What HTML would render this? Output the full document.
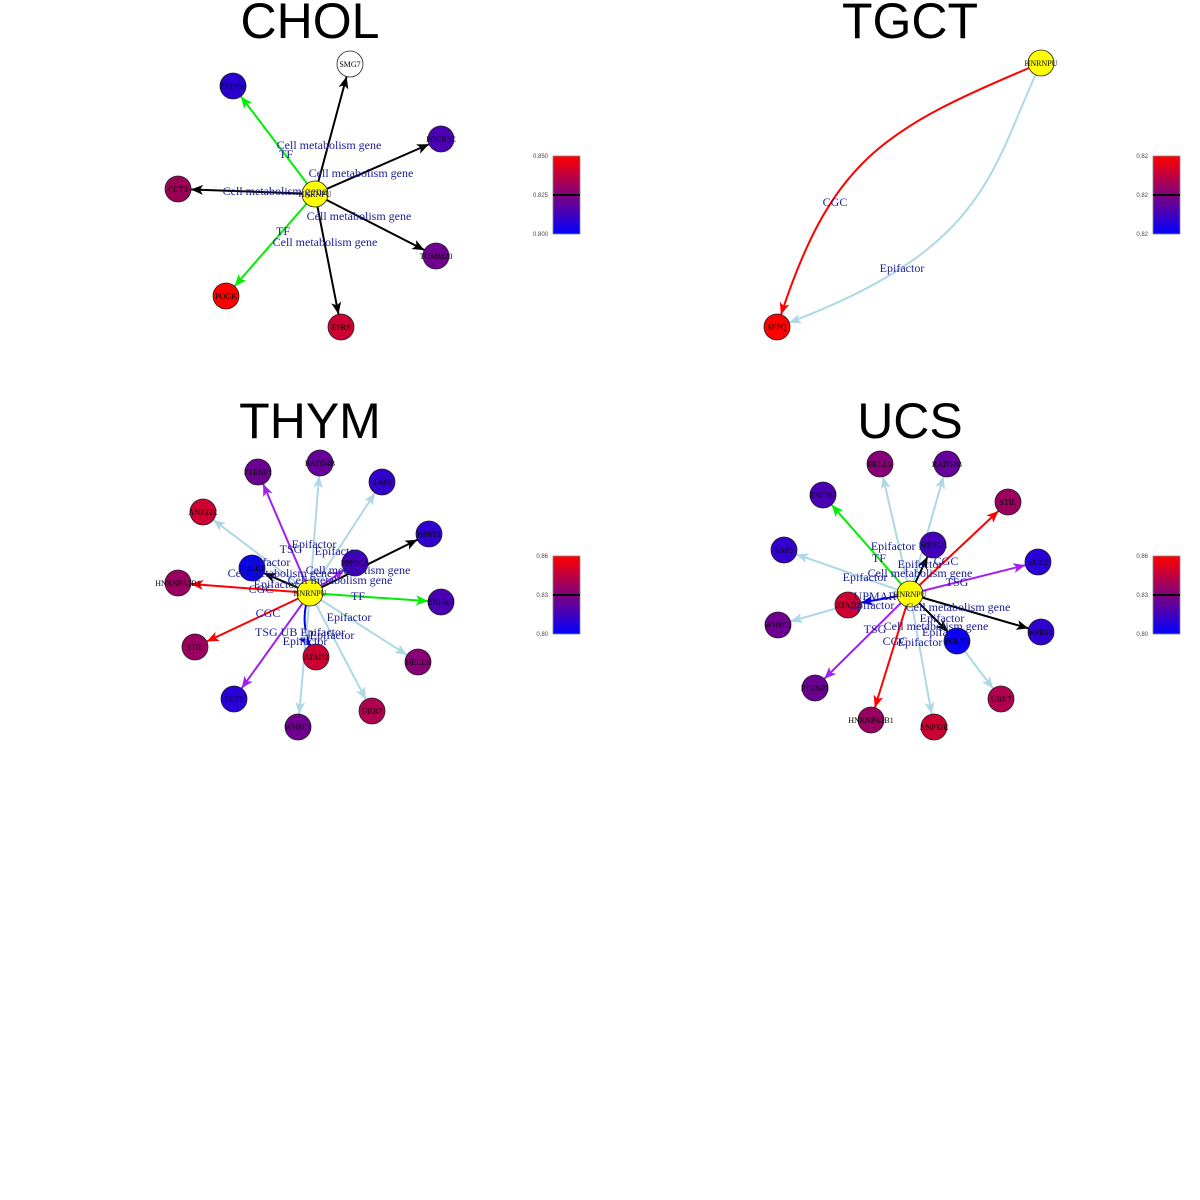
<!DOCTYPE html>
<html><head><meta charset="utf-8"><style>
html,body{margin:0;padding:0;background:#fff;}
svg{display:block;}
.t{font-family:"Liberation Sans",sans-serif;font-size:50px;text-anchor:middle;fill:#000;}
.n{font-family:"Liberation Serif",serif;font-size:8px;text-anchor:middle;fill:#000;}
.l{font-family:"Liberation Serif",serif;font-size:12px;text-anchor:middle;fill:#1a1a99;}
.c{font-family:"Liberation Sans",sans-serif;font-size:6px;text-anchor:end;fill:#444;}
circle{stroke:#222;stroke-width:0.8;}
line,path.e{stroke-width:2;fill:none;}
</style></head><body>
<svg width="1200" height="1200" viewBox="0 0 1200 1200" xmlns="http://www.w3.org/2000/svg">
<defs>
<linearGradient id="g" x1="0" y1="0" x2="0" y2="1">
<stop offset="0" stop-color="#ff0000"/><stop offset="0.5" stop-color="#80007f"/><stop offset="1" stop-color="#0000ff"/>
</linearGradient>
<marker id="mk" markerUnits="userSpaceOnUse" markerWidth="40" markerHeight="20" refX="25" refY="5" orient="auto" viewBox="0 0 40 10"><path d="M0,0 L12,5 L0,10 L3,5 z" fill="#000"/></marker>
<marker id="mg" markerUnits="userSpaceOnUse" markerWidth="40" markerHeight="20" refX="25" refY="5" orient="auto" viewBox="0 0 40 10"><path d="M0,0 L12,5 L0,10 L3,5 z" fill="#00ee00"/></marker>
<marker id="mr" markerUnits="userSpaceOnUse" markerWidth="40" markerHeight="20" refX="25" refY="5" orient="auto" viewBox="0 0 40 10"><path d="M0,0 L12,5 L0,10 L3,5 z" fill="#ff0000"/></marker>
<marker id="mb" markerUnits="userSpaceOnUse" markerWidth="40" markerHeight="20" refX="25" refY="5" orient="auto" viewBox="0 0 40 10"><path d="M0,0 L12,5 L0,10 L3,5 z" fill="#add8e6"/></marker>
<marker id="mp" markerUnits="userSpaceOnUse" markerWidth="40" markerHeight="20" refX="25" refY="5" orient="auto" viewBox="0 0 40 10"><path d="M0,0 L12,5 L0,10 L3,5 z" fill="#a020f0"/></marker>
<marker id="mu" markerUnits="userSpaceOnUse" markerWidth="40" markerHeight="20" refX="25" refY="5" orient="auto" viewBox="0 0 40 10"><path d="M0,0 L12,5 L0,10 L3,5 z" fill="#0000ee"/></marker>
</defs>

<!-- Titles -->
<text class="t" x="310" y="38">CHOL</text>
<text class="t" x="910" y="38">TGCT</text>
<text class="t" x="310" y="438">THYM</text>
<text class="t" x="910" y="438">UCS</text>

<!-- Colorbars -->
<g>
<rect x="553" y="156" width="27" height="78" fill="url(#g)" stroke="#888" stroke-width="0.8"/>
<line x1="553" y1="195" x2="580" y2="195" stroke="#000" stroke-width="0.6"/>
<text class="c" x="548" y="158">0.850</text><text class="c" x="548" y="197">0.825</text><text class="c" x="548" y="236">0.800</text>
<rect x="1153" y="156" width="27" height="78" fill="url(#g)" stroke="#888" stroke-width="0.8"/>
<line x1="1153" y1="195" x2="1180" y2="195" stroke="#000" stroke-width="0.6"/>
<text class="c" x="1148" y="158">0.82</text><text class="c" x="1148" y="197">0.82</text><text class="c" x="1148" y="236">0.82</text>
<rect x="553" y="556" width="27" height="78" fill="url(#g)" stroke="#888" stroke-width="0.8"/>
<line x1="553" y1="595" x2="580" y2="595" stroke="#000" stroke-width="0.6"/>
<text class="c" x="548" y="558">0.86</text><text class="c" x="548" y="597">0.83</text><text class="c" x="548" y="636">0.80</text>
<rect x="1153" y="556" width="27" height="78" fill="url(#g)" stroke="#888" stroke-width="0.8"/>
<line x1="1153" y1="595" x2="1180" y2="595" stroke="#000" stroke-width="0.6"/>
<text class="c" x="1148" y="558">0.86</text><text class="c" x="1148" y="597">0.83</text><text class="c" x="1148" y="636">0.80</text>
</g>

<!-- CHOL -->
<g>
<line x1="315" y1="194" x2="350" y2="64" stroke="#000" marker-end="url(#mk)"/>
<line x1="315" y1="194" x2="233" y2="86" stroke="#00ee00" marker-end="url(#mg)"/>
<line x1="315" y1="194" x2="441" y2="139" stroke="#000" marker-end="url(#mk)"/>
<line x1="315" y1="194" x2="178" y2="189" stroke="#000" marker-end="url(#mk)"/>
<line x1="315" y1="194" x2="436" y2="256" stroke="#000" marker-end="url(#mk)"/>
<line x1="315" y1="194" x2="226" y2="296" stroke="#00ee00" marker-end="url(#mg)"/>
<line x1="315" y1="194" x2="341" y2="327" stroke="#000" marker-end="url(#mk)"/>
<circle cx="350" cy="64" r="13" fill="#fff"/><text class="n" x="350" y="67">SMG7</text>
<circle cx="233" cy="86" r="13" fill="#2a00d0"/><text class="n" x="233" y="89">ZNF490</text>
<circle cx="441" cy="139" r="13" fill="#4b00b4"/><text class="n" x="441" y="142">POLR3C</text>
<circle cx="178" cy="189" r="13" fill="#9a0055"/><text class="n" x="178" y="192">CCT3</text>
<circle cx="436" cy="256" r="13" fill="#70008f"/><text class="n" x="436" y="259">TOMM20</text>
<circle cx="226" cy="296" r="13" fill="#ff0000"/><text class="n" x="226" y="299">POGK</text>
<circle cx="341" cy="327" r="13" fill="#cc0033"/><text class="n" x="341" y="330">EPRS</text>
<circle cx="315" cy="194" r="13" fill="#ffff00"/><text class="n" x="315" y="197">HNRNPU</text>
<text class="l" x="329" y="149">Cell metabolism gene</text>
<text class="l" x="286" y="158">TF</text>
<text class="l" x="361" y="177">Cell metabolism gene</text>
<text class="l" x="275" y="195">Cell metabolism gene</text>
<text class="l" x="359" y="220">Cell metabolism gene</text>
<text class="l" x="283" y="235">TF</text>
<text class="l" x="325" y="246">Cell metabolism gene</text>
</g>

<!-- TGCT -->
<g>
<path class="e" d="M1041,63 C880,130 830,160 777,327" stroke="#ff0000" marker-end="url(#mr)"/>
<path class="e" d="M1041,63 C990,170 990,250 777,327" stroke="#add8e6" marker-end="url(#mb)"/>
<circle cx="1041" cy="63" r="13" fill="#ffff00"/><text class="n" x="1041" y="66">HNRNPU</text>
<circle cx="777" cy="327" r="13" fill="#ff0000"/><text class="n" x="777" y="330">SFPQ</text>
<text class="l" x="835" y="206">CGC</text>
<text class="l" x="902" y="272">Epifactor</text>
</g>

<!-- THYM -->
<g>
<line x1="310" y1="593" x2="258" y2="472" stroke="#a020f0" marker-end="url(#mp)"/>
<line x1="310" y1="593" x2="320" y2="463" stroke="#add8e6" marker-end="url(#mb)"/>
<line x1="310" y1="593" x2="382" y2="482" stroke="#add8e6" marker-end="url(#mb)"/>
<line x1="310" y1="593" x2="203" y2="512" stroke="#add8e6" marker-end="url(#mb)"/>
<line x1="310" y1="593" x2="429" y2="534" stroke="#000" marker-end="url(#mk)"/>
<line x1="310" y1="593" x2="252" y2="568" stroke="#000" marker-end="url(#mk)"/>
<line x1="310" y1="593" x2="355" y2="563" stroke="#a020f0" marker-end="url(#mp)"/>
<line x1="310" y1="593" x2="178" y2="583" stroke="#ff0000" marker-end="url(#mr)"/>
<line x1="310" y1="593" x2="441" y2="602" stroke="#00ee00" marker-end="url(#mg)"/>
<line x1="310" y1="593" x2="195" y2="647" stroke="#ff0000" marker-end="url(#mr)"/>
<path class="e" d="M310,593 C300,615 305,640 316,657" stroke="#0000ee" marker-end="url(#mu)"/>
<line x1="310" y1="593" x2="418" y2="662" stroke="#add8e6" marker-end="url(#mb)"/>
<line x1="310" y1="593" x2="234" y2="699" stroke="#a020f0" marker-end="url(#mp)"/>
<line x1="310" y1="593" x2="372" y2="711" stroke="#add8e6" marker-end="url(#mb)"/>
<line x1="310" y1="593" x2="298" y2="727" stroke="#add8e6" marker-end="url(#mb)"/>
<circle cx="258" cy="472" r="13" fill="#6a0090"/><text class="n" x="258" y="475">PTENP1</text>
<circle cx="320" cy="463" r="13" fill="#66009a"/><text class="n" x="320" y="466">RAD54B</text>
<circle cx="382" cy="482" r="13" fill="#3300cc"/><text class="n" x="382" y="485">TAF5</text>
<circle cx="203" cy="512" r="13" fill="#cc0033"/><text class="n" x="203" y="515">ANP32E</text>
<circle cx="429" cy="534" r="13" fill="#3000d0"/><text class="n" x="429" y="537">HPRT1</text>
<circle cx="252" cy="568" r="13" fill="#0a00f5"/><text class="n" x="252" y="571">POLE3</text>
<circle cx="355" cy="563" r="13" fill="#4500bb"/><text class="n" x="355" y="566">PPP2CA</text>
<circle cx="178" cy="583" r="13" fill="#990060"/><text class="n" x="178" y="586">HNRNPA2B1</text>
<circle cx="441" cy="602" r="13" fill="#4b00b4"/><text class="n" x="441" y="605">ZNF367</text>
<circle cx="195" cy="647" r="13" fill="#990060"/><text class="n" x="195" y="650">STIL</text>
<circle cx="316" cy="657" r="13" fill="#cc0033"/><text class="n" x="316" y="660">ATAD2</text>
<circle cx="418" cy="662" r="13" fill="#880077"/><text class="n" x="418" y="665">HELLS</text>
<circle cx="234" cy="699" r="13" fill="#2a00d8"/><text class="n" x="234" y="702">ECT2</text>
<circle cx="372" cy="711" r="13" fill="#b00050"/><text class="n" x="372" y="714">UBR7</text>
<circle cx="298" cy="727" r="13" fill="#70008f"/><text class="n" x="298" y="730">WHSC1</text>
<circle cx="310" cy="593" r="13" fill="#ffff00"/><text class="n" x="310" y="596">HNRNPU</text>
<text class="l" x="314" y="548">Epifactor</text>
<text class="l" x="291" y="553">TSG</text>
<text class="l" x="337" y="555">Epifactor</text>
<text class="l" x="268" y="566">Epifactor</text>
<text class="l" x="358" y="574">Cell metabolism gene</text>
<text class="l" x="280" y="577">Cell metabolism gene</text>
<text class="l" x="340" y="584">Cell metabolism gene</text>
<text class="l" x="276" y="588">Epifactor</text>
<text class="l" x="261" y="593">CGC</text>
<text class="l" x="358" y="600">TF</text>
<text class="l" x="268" y="617">CGC</text>
<text class="l" x="349" y="621">Epifactor</text>
<text class="l" x="300" y="636">TSG UB Epifactor</text>
<text class="l" x="332" y="639">Epifactor</text>
<text class="l" x="305" y="645">Epifactor</text>
</g>

<!-- UCS -->
<g>
<line x1="910" y1="594" x2="880" y2="464" stroke="#add8e6" marker-end="url(#mb)"/>
<line x1="910" y1="594" x2="947" y2="464" stroke="#add8e6" marker-end="url(#mb)"/>
<line x1="910" y1="594" x2="823" y2="495" stroke="#00ee00" marker-end="url(#mg)"/>
<line x1="910" y1="594" x2="1008" y2="502" stroke="#ff0000" marker-end="url(#mr)"/>
<line x1="910" y1="594" x2="784" y2="550" stroke="#add8e6" marker-end="url(#mb)"/>
<line x1="910" y1="594" x2="933" y2="545" stroke="#000" marker-end="url(#mk)"/>
<line x1="910" y1="594" x2="1038" y2="562" stroke="#a020f0" marker-end="url(#mp)"/>
<line x1="910" y1="594" x2="848" y2="605" stroke="#0000ee" marker-end="url(#mu)"/>
<line x1="848" y1="605" x2="778" y2="625" stroke="#add8e6" marker-end="url(#mb)"/>
<line x1="910" y1="594" x2="1041" y2="632" stroke="#000" marker-end="url(#mk)"/>
<line x1="910" y1="594" x2="957" y2="641" stroke="#000" marker-end="url(#mk)"/>
<line x1="910" y1="594" x2="815" y2="688" stroke="#a020f0" marker-end="url(#mp)"/>
<line x1="957" y1="641" x2="1001" y2="699" stroke="#add8e6" marker-end="url(#mb)"/>
<line x1="910" y1="594" x2="871" y2="720" stroke="#ff0000" marker-end="url(#mr)"/>
<line x1="910" y1="594" x2="934" y2="727" stroke="#add8e6" marker-end="url(#mb)"/>
<circle cx="880" cy="464" r="13" fill="#880077"/><text class="n" x="880" y="467">HELLS</text>
<circle cx="947" cy="464" r="13" fill="#66009a"/><text class="n" x="947" y="467">RAD54B</text>
<circle cx="823" cy="495" r="13" fill="#4b00b4"/><text class="n" x="823" y="498">ZNF367</text>
<circle cx="1008" cy="502" r="13" fill="#990060"/><text class="n" x="1008" y="505">STIL</text>
<circle cx="784" cy="550" r="13" fill="#3300cc"/><text class="n" x="784" y="553">TAF5</text>
<circle cx="933" cy="545" r="13" fill="#4500bb"/><text class="n" x="933" y="548">PPP2CA</text>
<circle cx="1038" cy="562" r="13" fill="#2a00d8"/><text class="n" x="1038" y="565">ECT2</text>
<circle cx="848" cy="605" r="13" fill="#cc0033"/><text class="n" x="848" y="608">ATAD2</text>
<circle cx="778" cy="625" r="13" fill="#70008f"/><text class="n" x="778" y="628">WHSC1</text>
<circle cx="1041" cy="632" r="13" fill="#3000d0"/><text class="n" x="1041" y="635">HPRT1</text>
<circle cx="957" cy="641" r="13" fill="#0a00f5"/><text class="n" x="957" y="644">POLE3</text>
<circle cx="815" cy="688" r="13" fill="#6a0090"/><text class="n" x="815" y="691">PTENP1</text>
<circle cx="1001" cy="699" r="13" fill="#b00050"/><text class="n" x="1001" y="702">UBR7</text>
<circle cx="871" cy="720" r="13" fill="#990060"/><text class="n" x="871" y="723">HNRNPA2B1</text>
<circle cx="934" cy="727" r="13" fill="#cc0033"/><text class="n" x="934" y="730">ANP32E</text>
<circle cx="910" cy="594" r="13" fill="#ffff00"/><text class="n" x="910" y="597">HNRNPU</text>
<text class="l" x="905" y="550">Epifactor Epif</text>
<text class="l" x="946" y="565">CGC</text>
<text class="l" x="879" y="562">TF</text>
<text class="l" x="920" y="568">Epifactor</text>
<text class="l" x="920" y="577">Cell metabolism gene</text>
<text class="l" x="957" y="586">TSG</text>
<text class="l" x="865" y="581">Epifactor</text>
<text class="l" x="875" y="600">UPMAR</text>
<text class="l" x="872" y="609">Epifactor</text>
<text class="l" x="958" y="611">Cell metabolism gene</text>
<text class="l" x="942" y="622">Epifactor</text>
<text class="l" x="936" y="630">Cell metabolism gene</text>
<text class="l" x="875" y="633">TSG</text>
<text class="l" x="935" y="636">Epifa</text>
<text class="l" x="895" y="645">CGC</text>
<text class="l" x="920" y="646">Epifactor</text>
</g>
</svg>
</body></html>
